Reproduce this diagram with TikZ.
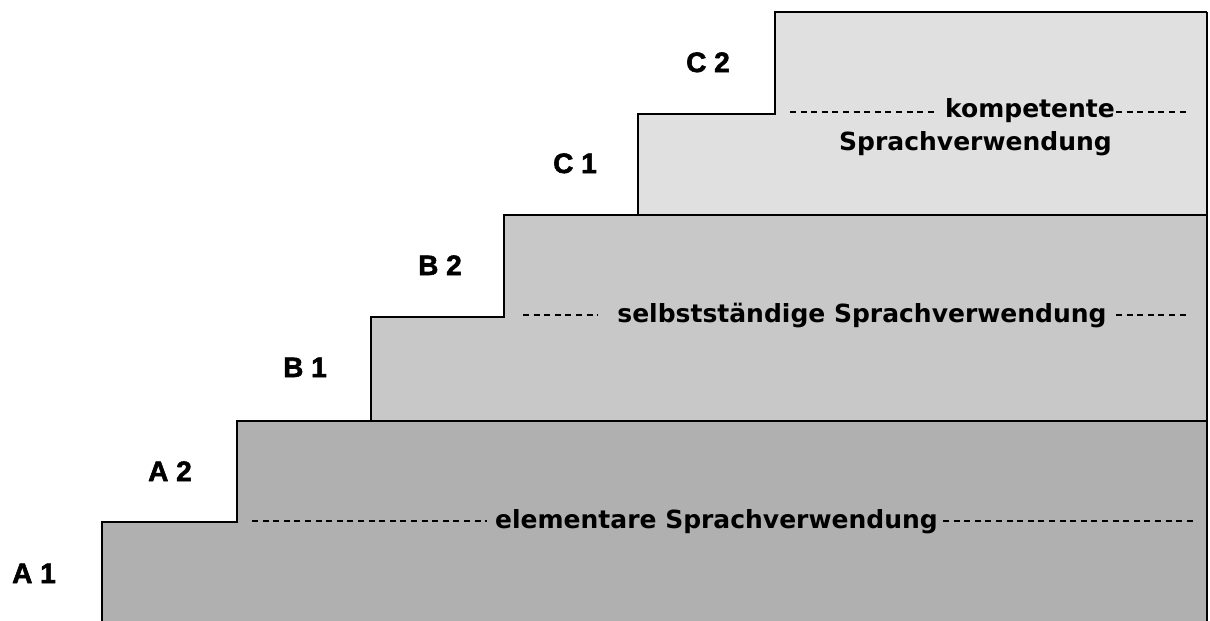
\documentclass[tikz,border=0pt]{standalone}
\usepackage{fontspec}
\newfontfamily\lblfont[BoldFeatures={FakeBold=2}]{Liberation Sans}
\newfontfamily\txtfont{DejaVu Sans}
\definecolor{stepA}{HTML}{B0B0B0}
\definecolor{stepB}{HTML}{C8C8C8}
\definecolor{stepC}{HTML}{E0E0E0}
\tikzset{
  stepline/.style={draw=black, line width=2pt, line join=miter},
  lvl/.style={anchor=base west, inner sep=0pt, font=\lblfont\bfseries\fontsize{28}{28}\selectfont},
  band/.style={anchor=base, inner sep=0pt, font=\txtfont\bfseries\fontsize{25}{25}\selectfont},
  dashline/.style={draw=black, line width=1.6pt, dash pattern=on 6pt off 4.6pt}
}
\begin{document}
\begin{tikzpicture}[x=1pt,y=-1pt]
\useasboundingbox (0,0) rectangle (1210,621);
% bottom band (A)
\fill[stepA] (102,621) -- (102,522) -- (237,522) -- (237,421) -- (1207,421) -- (1207,621) -- cycle;
% middle band (B)
\fill[stepB] (371,421) -- (371,317) -- (504,317) -- (504,215) -- (1207,215) -- (1207,421) -- cycle;
% top band (C)
\fill[stepC] (638,215) -- (638,114) -- (775,114) -- (775,12) -- (1207,12) -- (1207,215) -- cycle;
% outlines
\draw[stepline] (102,621) -- (102,522) -- (237,522) -- (237,421) -- (371,421);
\draw[stepline] (371,421) -- (371,317) -- (504,317) -- (504,215) -- (638,215);
\draw[stepline] (638,215) -- (638,114) -- (775,114) -- (775,12) -- (1207,12);
\draw[stepline] (371,421) -- (1207,421);
\draw[stepline] (638,215) -- (1207,215);
\draw[draw=black, line width=1.3pt] (1207,12) -- (1207,621);
% level labels
\node[lvl] (A1) at (12,583) {A 1};
\node[lvl] (A2) at (148,481) {A 2};
\node[lvl] (B1) at (283,377) {B 1};
\node[lvl] (B2) at (418,275) {B 2};
\node[lvl] (C1) at (553,173) {C 1};
\node[lvl] (C2) at (686,72) {C 2};
% band texts
\node[band] (elem) at (716.5,528) {elementare Sprachverwendung};
\node[band] (selb) at (862,322) {selbstständige Sprachverwendung};
\node[band] (komp) at (1030,117) {kompetente};
\node[band] (kompb) at (975.5,150) {Sprachverwendung};
% dashed guide lines
\coordinate (eL1) at (252,521); \coordinate (eL2) at (487,521);
\coordinate (eR1) at (943,521); \coordinate (eR2) at (1197,521);
\coordinate (sL1) at (523,315); \coordinate (sL2) at (598,315);
\coordinate (sR1) at (1116,315); \coordinate (sR2) at (1190,315);
\coordinate (kL1) at (790,112); \coordinate (kL2) at (938,112);
\coordinate (kR1) at (1116,112); \coordinate (kR2) at (1188,112);
\draw[dashline] (eL1) -- (eL2);
\draw[dashline] (eR1) -- (eR2);
\draw[dashline] (sL1) -- (sL2);
\draw[dashline] (sR1) -- (sR2);
\draw[dashline] (kL1) -- (kL2);
\draw[dashline] (kR1) -- (kR2);
\end{tikzpicture}
\end{document}
